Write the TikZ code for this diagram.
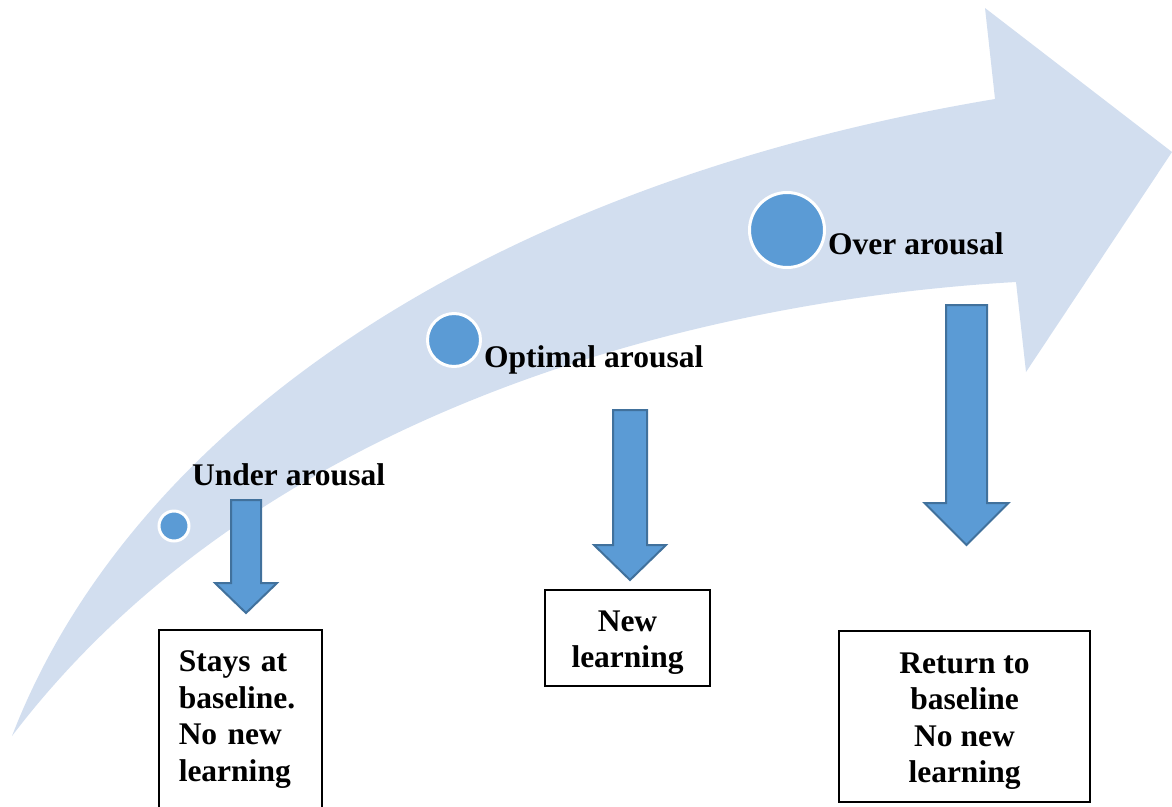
\documentclass[tikz,border=0pt]{standalone}
\usepackage{fontspec}
\setmainfont{Liberation Serif}

\definecolor{bandblue}{HTML}{D2DEEF}
\definecolor{dotblue}{HTML}{5B9BD5}
\definecolor{edgeblue}{HTML}{41719C}

% down block arrow: centre x, top, head start, tip, half shaft, half head
\newcommand{\downblock}[6]{%
  \filldraw[blockarrow] (#1-#5,#2) -- (#1+#5,#2) -- (#1+#5,#3) -- (#1+#6,#3)
    -- (#1,#4) -- (#1-#6,#3) -- (#1-#5,#3) -- cycle;}

\begin{document}
\begin{tikzpicture}[x=1pt,y=-1pt,
  dot/.style={circle,fill=dotblue,draw=white,line width=3pt,inner sep=0pt},
  lbl/.style={font=\fontsize{31.5}{36.5}\selectfont\bfseries,inner sep=0pt,anchor=base west},
  box/.style={draw=black,line width=1.5pt,font=\fontsize{31.5}{36.5}\selectfont\bfseries,inner ysep=0pt},
  blockarrow/.style={fill=dotblue,draw=edgeblue,line width=2pt,line join=miter}]
\useasboundingbox (0,0) rectangle (1172,806);

% curved band arrow
\fill[bandblue] (12,736) .. controls (130,430) and (480,185) .. (995,99)
  -- (985,8) -- (1172,152) -- (1026,372) -- (1016,282)
  .. controls (700,300) and (260,410) .. (12,736) -- cycle;

% arousal levels
\node[dot,minimum size=30pt] (c1) at (174,526) {};
\node[dot,minimum size=53pt] (c2) at (454,340) {};
\node[dot,minimum size=75pt] (c3) at (787,230) {};
\node[lbl] (under) at (192,485) {Under arousal};
\node[lbl] (optimal) at (484,367) {Optimal arousal};
\node[lbl] (over) at (828,254) {Over arousal};

% block arrows
\downblock{246}{500}{583}{613}{15}{31}
\downblock{630}{410}{545}{580}{17}{36}
\downblock{966.5}{305}{503}{545}{20.5}{42}

% outcomes
\node[box,align=left,text width=123pt,inner xsep=20pt,minimum height=180pt,anchor=north west]
  (stay) at (158,629) {Stays at\\baseline.\\No new\\learning};
\node[box,align=center,minimum width=165pt,minimum height=96pt] (new) at (627.5,638)
  {\rule{0pt}{30pt}New\\learning};
\node[box,align=center,minimum width=251pt,minimum height=171pt] (ret) at (964.5,716.5)
  {\rule{0pt}{30pt}Return to\\baseline\\No new\\learning};
\end{tikzpicture}
\end{document}
